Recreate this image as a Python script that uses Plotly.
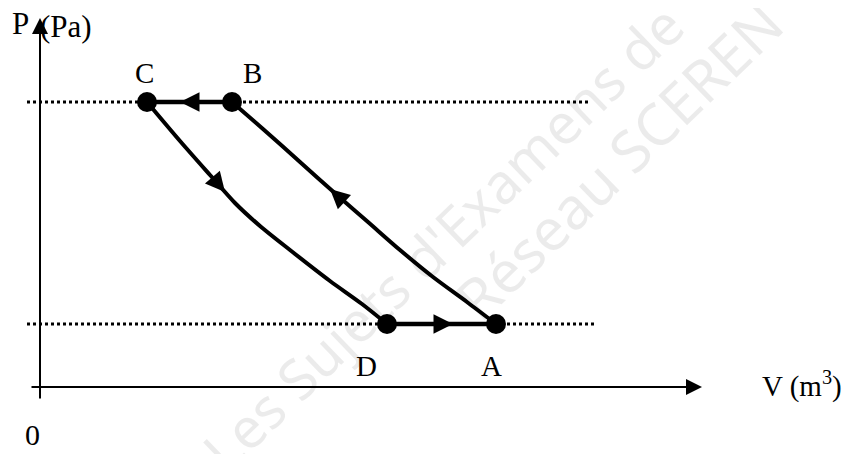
import plotly.graph_objects as go

# Data (arbitrary units: V in m^3-like units, P in Pa-like units)
point_names = ["A", "B", "C", "D"]
point_V = [4.56, 1.92, 1.07, 3.47]
point_P = [0.63, 2.85, 2.85, 0.63]

# Curve C -> D
cd_V = [1.07, 1.40, 1.70, 1.95, 2.20, 2.50, 2.90, 3.22, 3.47]
cd_P = [2.85, 2.46, 2.12, 1.84, 1.61, 1.37, 1.06, 0.83, 0.63]

# Curve A -> B
ab_V = [4.56, 4.27, 3.93, 3.60, 3.28, 2.97, 2.60, 2.23, 1.92]
ab_P = [0.63, 0.85, 1.10, 1.37, 1.65, 1.92, 2.25, 2.58, 2.85]

P_high = 2.85
P_low = 0.63
dotted_V_start = -0.13
dotted_V_end_high = 5.50
dotted_V_end_low = 5.55

FONT = "Liberation Serif, Times New Roman, serif"
WM_FONT = "Noto Sans, DejaVu Sans, sans-serif"

fig = go.Figure()

# dotted horizontal guide lines
fig.add_trace(go.Scatter(x=[dotted_V_start, dotted_V_end_high], y=[P_high, P_high], mode="lines",
                         line=dict(color="black", width=3, dash="dot"), hoverinfo="skip"))
fig.add_trace(go.Scatter(x=[dotted_V_start, dotted_V_end_low], y=[P_low, P_low], mode="lines",
                         line=dict(color="black", width=3, dash="dot"), hoverinfo="skip"))

# cycle segments
fig.add_trace(go.Scatter(x=cd_V, y=cd_P, mode="lines",
                         line=dict(color="black", width=4, shape="spline", smoothing=0.8), hoverinfo="skip"))
fig.add_trace(go.Scatter(x=ab_V, y=ab_P, mode="lines",
                         line=dict(color="black", width=4, shape="spline", smoothing=0.8), hoverinfo="skip"))
fig.add_trace(go.Scatter(x=[point_V[1], point_V[2]], y=[point_P[1], point_P[2]], mode="lines",
                         line=dict(color="black", width=4.5), hoverinfo="skip"))
fig.add_trace(go.Scatter(x=[point_V[3], point_V[0]], y=[point_P[3], point_P[0]], mode="lines",
                         line=dict(color="black", width=4.5), hoverinfo="skip"))

# points
fig.add_trace(go.Scatter(x=point_V, y=point_P, mode="markers",
                         marker=dict(color="black", size=20), hoverinfo="skip"))

annotations = []

# watermark
annotations.append(dict(x=4.02, y=1.50, xref="x", yref="y", text="Les Sujets d'Examens de",
                        showarrow=False, textangle=-44,
                        font=dict(family=WM_FONT, size=56, color="rgba(0,0,0,0.08)")))
annotations.append(dict(x=5.78, y=2.27, xref="x", yref="y", text="Réseau SCEREN",
                        showarrow=False, textangle=-44,
                        font=dict(family=WM_FONT, size=58, color="rgba(0,0,0,0.08)")))

# axes with arrows
annotations.append(dict(x=0, y=3.69, ax=0, ay=-0.13, xref="x", yref="y", axref="x", ayref="y",
                        text="", showarrow=True, arrowhead=2, arrowsize=1.6, arrowwidth=2, arrowcolor="black"))
annotations.append(dict(x=6.62, y=0, ax=-0.10, ay=0, xref="x", yref="y", axref="x", ayref="y",
                        text="", showarrow=True, arrowhead=2, arrowsize=1.6, arrowwidth=2, arrowcolor="black"))

# direction arrows on the cycle
arrow_tips = [(1.40, 2.85, 1.60, 2.85), (4.13, 0.63, 3.93, 0.63),
              (1.85, 1.95, 1.74, 2.08), (2.90, 1.98, 3.01, 1.88)]
for x, y, ax, ay in arrow_tips:
    annotations.append(dict(x=x, y=y, ax=ax, ay=ay, xref="x", yref="y", axref="x", ayref="y",
                            text="", showarrow=True, arrowhead=2, arrowsize=1.3, arrowwidth=3, arrowcolor="black"))

# labels
labels = [("C", 1.04, 3.14), ("B", 2.12, 3.14), ("D", 3.26, 0.21), ("A", 4.51, 0.21)]
for t, x, y in labels:
    annotations.append(dict(x=x, y=y, xref="x", yref="y", text=t, showarrow=False,
                            font=dict(family=FONT, size=29, color="black")))
annotations.append(dict(x=-0.08, y=-0.66, xref="x", yref="y", text="0", showarrow=False, yanchor="bottom",
                        font=dict(family=FONT, size=30, color="black")))
annotations.append(dict(x=-0.20, y=3.64, xref="x", yref="y", text="P", showarrow=False,
                        font=dict(family=FONT, size=31, color="black")))
annotations.append(dict(x=0.26, y=3.61, xref="x", yref="y", text="(Pa)", showarrow=False,
                        font=dict(family=FONT, size=31, color="black")))
annotations.append(dict(x=7.62, y=0.03, xref="x", yref="y", text="V (m<sup>3</sup>)", showarrow=False,
                        font=dict(family=FONT, size=29, color="black")))

# The page body has an 8 px default margin, so the figure is 8 px smaller and ranges shifted.
fig.update_layout(
    width=842, height=446, margin=dict(l=0, r=0, t=0, b=0),
    paper_bgcolor="white", plot_bgcolor="white", showlegend=False,
    xaxis=dict(range=[-0.32, 8.10], visible=False, fixedrange=True),
    yaxis=dict(range=[-0.67, 3.79], visible=False, fixedrange=True),
    annotations=annotations,
)

fig.write_html("out.html")
